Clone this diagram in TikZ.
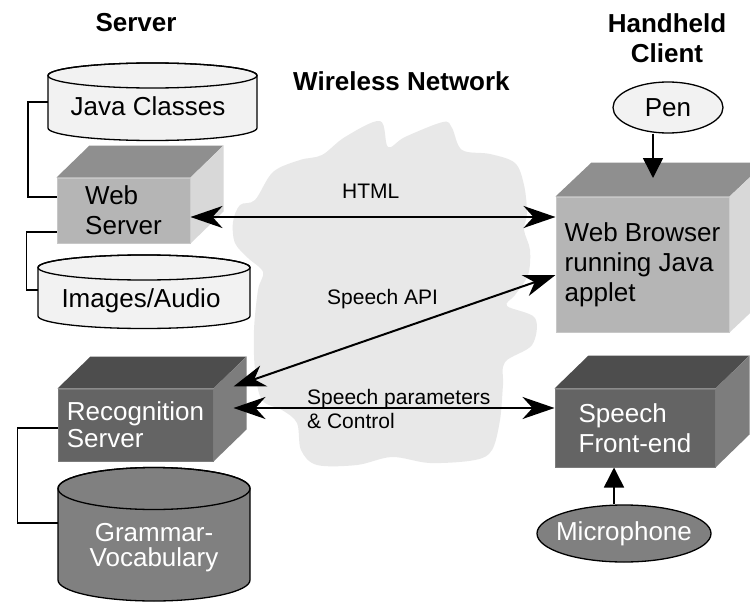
\documentclass[tikz,border=0pt]{standalone}
\usepackage{fontspec}
\setmainfont{Liberation Sans}
\usetikzlibrary{arrows.meta,calc,shapes.geometric}
\definecolor{cloudg}{HTML}{E8E8E8}
\definecolor{lfront}{HTML}{B5B5B5}
\definecolor{ltop}{HTML}{8F8F8F}
\definecolor{lside}{HTML}{D8D8D8}
\definecolor{dfront}{HTML}{646464}
\definecolor{dtop}{HTML}{4D4D4D}
\definecolor{dside}{HTML}{7D7D7D}
\definecolor{cylL}{HTML}{F2F2F2}
\definecolor{cylD}{HTML}{808080}
\newcommand\cubefaces[5]{%
  \fill[#4] (#1.north west) -- ++(#2pt,#3pt) -- ([shift={(#2pt,#3pt)}]#1.north east) -- (#1.north east) -- cycle;
  \fill[#5] (#1.north east) -- ([shift={(#2pt,#3pt)}]#1.north east) -- ([shift={(#2pt,#3pt)}]#1.south east) -- (#1.south east) -- cycle;
}
% L, R, yt, yb, ry, fill, rx
\newcommand\mycyl[7]{%
  \filldraw[fill=#6, draw=black, line width=1.3pt] (#1,#3) -- (#1,#4)
     arc[start angle=180, end angle=0, x radius=#7, y radius=#5] -- (#2,#3)
     arc[start angle=0, end angle=-180, x radius=#7, y radius=#5] -- cycle;
  \draw[line width=1.3pt] ({(#1+#2)/2},#3) ellipse[x radius=#7, y radius=#5];
}
\begin{document}
\begin{tikzpicture}[x=1pt,y=-1pt,
  big/.style={font=\fontsize{26}{30}\selectfont},
  ttl/.style={font=\fontsize{26}{30}\selectfont\bfseries, align=center, inner sep=0pt},
  small/.style={font=\fontsize{21}{24}\selectfont, align=left, inner sep=0pt},
  lcube/.style={fill=lfront, draw=lfront!75!white, line width=1pt, big, align=left, inner sep=0pt},
  dcube/.style={fill=dfront, draw=dfront!85!white, line width=1pt, big, align=left, text=white, inner sep=0pt},
  conn/.style={line width=1.5pt},
  biarrow/.style={line width=2pt, {Stealth[length=32pt,width=22pt,inset=10pt]}-{Stealth[length=32pt,width=22pt,inset=10pt]}},
  triarrow/.style={line width=1.5pt, -{Triangle[length=20pt,width=20pt]}},
  oval/.style={draw, ellipse, line width=1.3pt},
]
\useasboundingbox (0,0) rectangle (750,602);
\fill[white] (0,0) rectangle (750,602);

% cloud
\fill[cloudg] plot[smooth cycle, tension=0.55] coordinates {
 (255,200) (273,172) (300,160) (322,155) (345,137) (380,121) (388,147) (405,137)
 (443,122) (452,128) (462,150) (490,154) (515,163) (524,185) (527,213) (524,230)
 (530,250) (528,275) (515,295) (507,306) (535,318) (532,345) (505,362) (503,385)
 (500,420) (492,450) (475,460) (430,463) (392,457) (357,465) (317,465) (301,450)
 (297,423) (282,410) (262,400) (255,370) (254,330) (258,290) (263,272) (248,258)
 (235,243) (233,222) (240,205)};

% titles
\node[ttl, anchor=base] (srv) at (136,32) {Server};
\node[ttl, anchor=base west] (wn) at (293,90) {Wireless Network};
\node[ttl] (hc) at (667,38.5) {Handheld\\Client};

% cylinders
\mycyl{48}{257}{75.5}{128}{12.5}{cylL}{104.5}
\node[big, anchor=base] (jc) at (148,115) {Java Classes};
\coordinate (jcw) at (48,102);
\mycyl{38}{250}{267.5}{316}{12.5}{cylL}{106}
\node[big, anchor=base] (ia) at (141,307) {Images/Audio};
\coordinate (iaw) at (38,290);
\mycyl{58}{250}{488.5}{580}{21}{cylD}{96}
\node[font=\fontsize{26}{25}\selectfont, text=white, align=center, inner sep=0pt] (gv) at (154,547.5) {Grammar-\\Vocabulary};
\coordinate (gvw) at (58,523);

% cubes
\node[lcube, minimum width=133pt, minimum height=65pt] (ws) at (123.5,210.5) {Web\\Server};
\cubefaces{ws}{33}{32}{ltop}{lside}
\node[lcube, minimum width=173pt, minimum height=135pt] (wb) at (642.5,264.5) {Web Browser\\running Java\\applet};
\cubefaces{wb}{36}{34}{ltop}{lside}
\node[dcube, minimum width=155pt, minimum height=72pt, font=\fontsize{26}{27}\selectfont] (rs) at (135.5,425) {Recognition\\Server};
\cubefaces{rs}{33}{32}{dtop}{dside}
\node[dcube, minimum width=160pt, minimum height=78pt] (sf) at (635,428) {Speech\\Front-end};
\cubefaces{sf}{34}{33}{dtop}{dside}

% ovals
\node[oval, fill=cylL, minimum width=110pt, minimum height=51pt, inner sep=0pt] (pen) at (668,107.5) {};
\node[big, inner sep=0pt] (penT) at (pen) {Pen};
\node[oval, fill=cylD, minimum width=174pt, minimum height=57pt, inner sep=0pt] (mic) at (624,533.5) {};
\node[big, text=white, inner sep=0pt] (micT) at (mic) {Microphone};

% brackets
\draw[conn] (jcw) -- ++(-20,0) |- ([yshift=13.5pt]ws.west);
\draw[conn] ([yshift=-21.5pt]ws.west) -- ++(-30,0) |- (iaw);
\draw[conn] ([yshift=-3pt]rs.west) -- ++(-40,0) |- (gvw);

% arrows
\coordinate (h1) at ([yshift=-6.5pt]ws.east);
\draw[biarrow] (h1) -- (h1 -| wb.west);
\draw[biarrow] ([yshift=-10.5pt]wb.west) -- ([shift={(20pt,2pt)}]rs.north east);
\draw[biarrow] ([shift={(20pt,17pt)}]rs.east) -- ([yshift=20pt]sf.west);
\coordinate (pentip) at (653,178);
\draw[triarrow] (pen.south -| pentip) -- (pentip);
\draw[triarrow] ([xshift=-10pt]mic.north) -- ([xshift=-21pt]sf.south);

% labels
\node[small, anchor=base west] (lhtml) at (342,198) {HTML};
\node[small, anchor=base west] (lapi) at (327,304) {Speech API};
\node[small, anchor=north west] (lsp) at (307,388.7) {Speech parameters\\\& Control};
\end{tikzpicture}
\end{document}
